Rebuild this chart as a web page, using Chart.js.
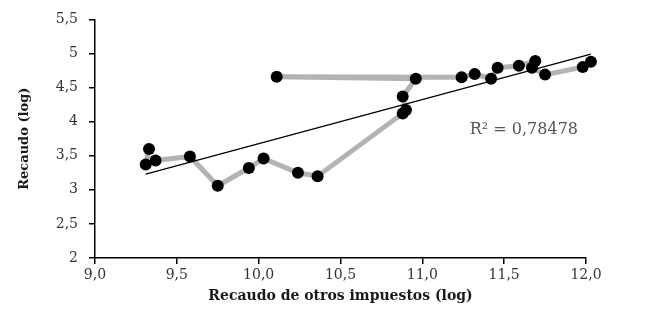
<!DOCTYPE html>
<html>
<head>
<meta charset="utf-8">
<script src="https://cdn.jsdelivr.net/npm/chart.js@4.4.1/dist/chart.umd.min.js"></script>
<style>
  html, body { margin: 0; padding: 0; background: #fff; }
  #wrap { width: 655px; height: 324px; }
</style>
</head>
<body>
<div id="wrap"><canvas id="chart"></canvas></div>
<script>
// Recaudo (log) vs recaudo de otros impuestos (log), in series order
const otrosImpuestos = [9.33, 9.31, 9.37, 9.58, 9.75, 9.94, 10.03, 10.24, 10.36,
  10.88, 10.90, 10.88, 10.96, 10.11, 11.24, 11.32, 11.42, 11.46, 11.59, 11.69,
  11.67, 11.75, 11.98, 12.03];
const recaudo = [3.60, 3.37, 3.43, 3.49, 3.06, 3.32, 3.46, 3.25, 3.20,
  4.12, 4.17, 4.37, 4.63, 4.66, 4.65, 4.70, 4.63, 4.79, 4.82, 4.89,
  4.79, 4.69, 4.80, 4.88];
const xTicks = [9.0, 9.5, 10.0, 10.5, 11.0, 11.5, 12.0];
const yTicks = [2, 2.5, 3, 3.5, 4, 4.5, 5, 5.5];
const r2Label = 'R² = 0,78478';

const points = otrosImpuestos.map((x, i) => ({ x: x, y: recaudo[i] }));

// least squares trend line over the data range
function linearFit(xs, ys) {
  const n = xs.length;
  const mx = xs.reduce((a, b) => a + b, 0) / n;
  const my = ys.reduce((a, b) => a + b, 0) / n;
  let sxy = 0, sxx = 0;
  xs.forEach((x, i) => { sxy += (x - mx) * (ys[i] - my); sxx += (x - mx) * (x - mx); });
  const slope = sxy / sxx;
  return x => my + slope * (x - mx);
}
const fit = linearFit(otrosImpuestos, recaudo);
const xMin = Math.min(...otrosImpuestos);
const xMax = Math.max(...otrosImpuestos);
const trend = [{ x: xMin, y: fit(xMin) }, { x: xMax, y: fit(xMax) }];

const fmt = v => String(v).replace('.', ',');

const r2Plugin = {
  id: 'r2Label',
  afterDatasetsDraw(chart) {
    const { ctx, scales } = chart;
    ctx.save();
    ctx.font = '16px "DejaVu Serif"';
    ctx.fillStyle = '#555';
    ctx.textAlign = 'left';
    ctx.textBaseline = 'middle';
    ctx.fillText(r2Label, scales.x.getPixelForValue(11.29), scales.y.getPixelForValue(3.88));
    ctx.restore();
  }
};

const tickFont = { family: '"DejaVu Serif"', size: 14 };

new Chart(document.getElementById('chart'), {
  type: 'scatter',
  data: {
    datasets: [{
      data: points,
      showLine: true,
      borderColor: '#b3b3b3',
      borderWidth: 5,
      pointRadius: 0,
      clip: false,
      order: 3
    }, {
      data: trend,
      showLine: true,
      borderColor: '#000',
      borderWidth: 1.3,
      pointRadius: 0,
      clip: false,
      order: 2
    }, {
      data: points,
      showLine: false,
      backgroundColor: '#000',
      borderColor: '#000',
      pointRadius: 6,
      pointBorderWidth: 0,
      clip: false,
      order: 1
    }]
  },
  options: {
    responsive: true,
    maintainAspectRatio: false,
    animation: false,
    layout: { padding: { top: 11, right: 69, left: 0, bottom: 0 } },
    plugins: { legend: { display: false }, tooltip: { enabled: false } },
    scales: {
      x: {
        type: 'linear',
        min: 9, max: 12,
        afterBuildTicks: s => { s.ticks = xTicks.map(v => ({ value: v })); },
        afterFit: s => { s.height = 66; },
        border: { color: '#000', width: 1.5 },
        grid: { drawOnChartArea: false, color: '#000', lineWidth: 1.5, tickLength: 6 },
        ticks: { font: tickFont, color: '#333', padding: 3, callback: v => v.toFixed(1).replace('.', ',') },
        title: { display: true, text: 'Recaudo de otros impuestos (log)', font: { family: '"DejaVu Serif"', size: 14, weight: 'bold' }, color: '#1a1a1a', padding: { top: 0, bottom: 19 } }
      },
      y: {
        type: 'linear',
        min: 2, max: 5.5,
        afterBuildTicks: s => { s.ticks = yTicks.map(v => ({ value: v })); },
        afterFit: s => { s.width = 95; },
        border: { color: '#000', width: 1.5 },
        grid: { drawOnChartArea: false, color: '#000', lineWidth: 1.5, tickLength: 6 },
        ticks: { font: tickFont, color: '#333', padding: 11, callback: v => fmt(v) },
        title: { display: true, text: 'Recaudo (log)', font: { family: '"DejaVu Serif"', size: 13, weight: 'bold' }, color: '#1a1a1a', padding: { top: 17, bottom: 0 } }
      }
    }
  },
  plugins: [r2Plugin]
});
</script>
</body>
</html>
